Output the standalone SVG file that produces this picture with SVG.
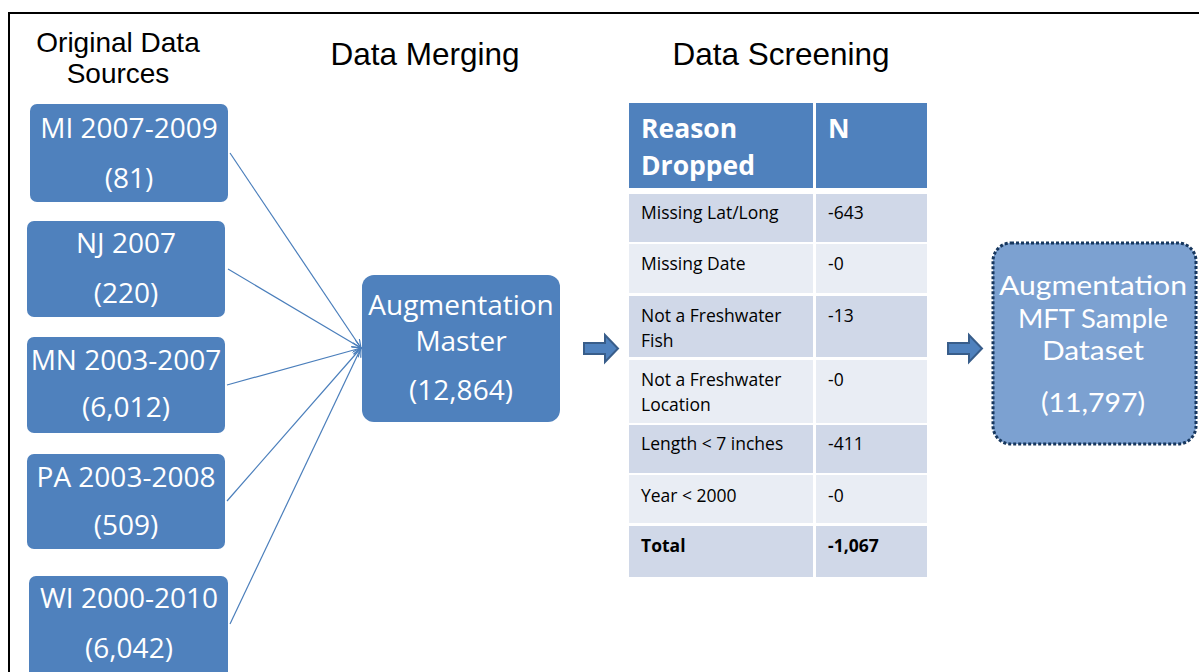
<svg xmlns="http://www.w3.org/2000/svg" width="1199" height="672" viewBox="0 0 1199 672">
<style>
.title{font-family:"Liberation Sans",Arial,sans-serif;fill:#000;text-anchor:middle}
.box{fill:#4f81bd}
.bt{font-family:"Open Sans","Noto Sans",sans-serif;font-size:28px;fill:#fff;text-anchor:middle}
.ft{font-family:Lato,"Open Sans",sans-serif;font-size:26.5px;fill:#fff;text-anchor:middle}
.conn{stroke:#4a7ebb;stroke-width:1.2;fill:none}
.hdr{fill:#4f81bd}
.odd{fill:#d0d8e8}
.even{fill:#e9edf4}
.ht{font-family:"Open Sans","Noto Sans",sans-serif;font-size:26.5px;font-weight:bold;fill:#fff}
.tt{font-family:"Open Sans","Noto Sans",sans-serif;font-size:17.5px;fill:#000}
.tb{font-weight:bold}
.blk{fill:#4f81bd;stroke:#385d8a;stroke-width:2;stroke-linejoin:miter}
</style>
<defs>
<marker id="arr" markerWidth="10" markerHeight="10" refX="9" refY="4" orient="auto" markerUnits="userSpaceOnUse">
<path d="M0,0 L9,4 L0,8" fill="none" stroke="#4a7ebb" stroke-width="1.2"/>
</marker>
</defs>
<rect x="0" y="0" width="1199" height="672" fill="#fff"/>
<path d="M9,680 V13 H1199" fill="none" stroke="#000" stroke-width="2"/>

<g id="titles">
<text class="title" x="118" y="52" font-size="28">Original Data</text>
<text class="title" x="118" y="83" font-size="28">Sources</text>
<text class="title" x="425" y="65" font-size="31.5">Data Merging</text>
<text class="title" x="781" y="65" font-size="31.5">Data Screening</text>
</g>

<g id="connectors">
<line class="conn" x1="230" y1="153" x2="361" y2="348" marker-end="url(#arr)"/>
<line class="conn" x1="228" y1="269" x2="361" y2="348" marker-end="url(#arr)"/>
<line class="conn" x1="227" y1="385" x2="361" y2="348" marker-end="url(#arr)"/>
<line class="conn" x1="227" y1="501" x2="361" y2="348" marker-end="url(#arr)"/>
<line class="conn" x1="230" y1="624" x2="361" y2="348" marker-end="url(#arr)"/>
<path class="blk" d="M584,343 H605 V335 L618,348.5 L605,362 V354 H584 Z"/>
<path class="blk" d="M948,343 H969 V335 L982,348.5 L969,362 V354 H948 Z"/>
</g>

<g id="node-mi">
<rect class="box" x="30" y="104" width="198" height="98" rx="7"/>
<text class="bt" x="129" y="138">MI 2007-2009</text>
<text class="bt" x="129" y="188">(81)</text>
</g>
<g id="node-nj">
<rect class="box" x="27" y="221" width="198" height="96" rx="7"/>
<text class="bt" x="126" y="253">NJ 2007</text>
<text class="bt" x="126" y="303">(220)</text>
</g>
<g id="node-mn">
<rect class="box" x="27" y="337" width="198" height="96" rx="7"/>
<text class="bt" x="126" y="370">MN 2003-2007</text>
<text class="bt" x="126" y="417">(6,012)</text>
</g>
<g id="node-pa">
<rect class="box" x="27" y="454" width="198" height="95" rx="7"/>
<text class="bt" x="126" y="487">PA 2003-2008</text>
<text class="bt" x="126" y="535">(509)</text>
</g>
<g id="node-wi">
<rect class="box" x="29" y="576" width="199" height="104" rx="7"/>
<text class="bt" x="129" y="608">WI 2000-2010</text>
<text class="bt" x="129" y="658">(6,042)</text>
</g>

<g id="node-master">
<rect class="box" x="362" y="275" width="198" height="147" rx="12"/>
<text class="bt" x="461" y="315">Augmentation</text>
<text class="bt" x="461" y="351">Master</text>
<text class="bt" x="461" y="400">(12,864)</text>
</g>

<g id="table">
<rect class="hdr" x="629" y="103" width="184" height="85"/>
<rect class="hdr" x="816" y="103" width="111" height="85"/>
<text class="ht" x="641" y="138">Reason</text>
<text class="ht" x="641" y="175">Dropped</text>
<text class="ht" x="828" y="138">N</text>

<rect class="odd" x="629" y="194" width="184" height="48"/>
<rect class="odd" x="816" y="194" width="111" height="48"/>
<text class="tt" x="641" y="219">Missing Lat/Long</text>
<text class="tt" x="828" y="219">-643</text>

<rect class="even" x="629" y="244" width="184" height="49"/>
<rect class="even" x="816" y="244" width="111" height="49"/>
<text class="tt" x="641" y="270">Missing Date</text>
<text class="tt" x="828" y="270">-0</text>

<rect class="odd" x="629" y="296" width="184" height="61"/>
<rect class="odd" x="816" y="296" width="111" height="61"/>
<text class="tt" x="641" y="322">Not a Freshwater</text>
<text class="tt" x="641" y="347">Fish</text>
<text class="tt" x="828" y="322">-13</text>

<rect class="even" x="629" y="360" width="184" height="63"/>
<rect class="even" x="816" y="360" width="111" height="63"/>
<text class="tt" x="641" y="386">Not a Freshwater</text>
<text class="tt" x="641" y="411">Location</text>
<text class="tt" x="828" y="386">-0</text>

<rect class="odd" x="629" y="425" width="184" height="48"/>
<rect class="odd" x="816" y="425" width="111" height="48"/>
<text class="tt" x="641" y="450">Length &lt; 7 inches</text>
<text class="tt" x="828" y="450">-411</text>

<rect class="even" x="629" y="475" width="184" height="48"/>
<rect class="even" x="816" y="475" width="111" height="48"/>
<text class="tt" x="641" y="502">Year &lt; 2000</text>
<text class="tt" x="828" y="502">-0</text>

<rect class="odd" x="629" y="526" width="184" height="51"/>
<rect class="odd" x="816" y="526" width="111" height="51"/>
<text class="tt tb" x="641" y="552">Total</text>
<text class="tt tb" x="828" y="552">-1,067</text>
</g>

<g id="node-final">
<rect x="993" y="243" width="203" height="201" rx="18" fill="#7ca1d1" stroke="#17375e" stroke-width="3" stroke-dasharray="3,2"/>
<text class="ft" x="1093" y="295" textLength="188" lengthAdjust="spacingAndGlyphs">Augmentation</text>
<text class="ft" x="1093" y="328" textLength="150" lengthAdjust="spacingAndGlyphs">MFT Sample</text>
<text class="ft" x="1093" y="360" textLength="102" lengthAdjust="spacingAndGlyphs">Dataset</text>
<text class="ft" x="1093" y="412" textLength="104" lengthAdjust="spacingAndGlyphs">(11,797)</text>
</g>
</svg>
